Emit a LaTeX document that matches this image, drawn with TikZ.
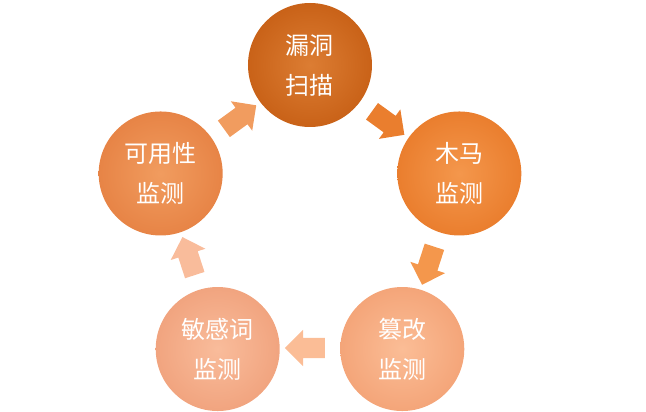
\documentclass[tikz,border=0pt]{standalone}
\usepackage{fontspec}
\newfontfamily\cjk{Noto Sans CJK SC}
\usetikzlibrary{shapes.arrows, positioning, calc}
\definecolor{StepA}{HTML}{C96218}
\definecolor{StepAin}{HTML}{DC7D33}
\definecolor{StepB}{HTML}{EA7E2E}
\definecolor{StepBin}{HTML}{F4974C}
\definecolor{StepC}{HTML}{F4A579}
\definecolor{StepCin}{HTML}{FBBD96}
\definecolor{StepD}{HTML}{F1A47F}
\definecolor{StepDin}{HTML}{F9BC9B}
\definecolor{StepE}{HTML}{E78446}
\definecolor{StepEin}{HTML}{F19C5F}

\begin{document}
\begin{tikzpicture}[
        x=1pt, y=1pt,
        every node/.style={font=\cjk\fontsize{24}{40}\selectfont},
        stage/.style={circle, minimum size=124pt, inner sep=0pt, align=center, text=white},
        blockarr/.style={single arrow, inner xsep=0pt, inner ysep=10pt, single arrow head extend=8pt, minimum height=40pt, draw=none},
    ]
        \useasboundingbox (-310,-190) rectangle (336,222);

        \node[stage, inner color=StepAin, outer color=StepA] (scan) at (90:157) {漏洞\\扫描};
        \node[stage, inner color=StepBin, outer color=StepB] (trojan) at (18:157) {木马\\监测};
        \node[stage, inner color=StepCin, outer color=StepC] (tamper) at (-54:157) {篡改\\监测};
        \node[stage, inner color=StepDin, outer color=StepD] (word) at (-126:157) {敏感词\\监测};
        \node[stage, inner color=StepEin, outer color=StepE] (avail) at (162:157) {可用性\\监测};

        \node[blockarr, fill=StepB, rotate=-36] (a1) at (54:126) {};
        \node[blockarr, fill=StepBin, rotate=-108] (a2) at (-18:126) {};
        \node[blockarr, fill=StepCin, rotate=180] (a3) at (-90:126) {};
        \node[blockarr, fill=StepDin, rotate=108] (a4) at (-162:126) {};
        \node[blockarr, fill=StepEin, rotate=36] (a5) at (126:126) {};
    \end{tikzpicture}
\end{document}
